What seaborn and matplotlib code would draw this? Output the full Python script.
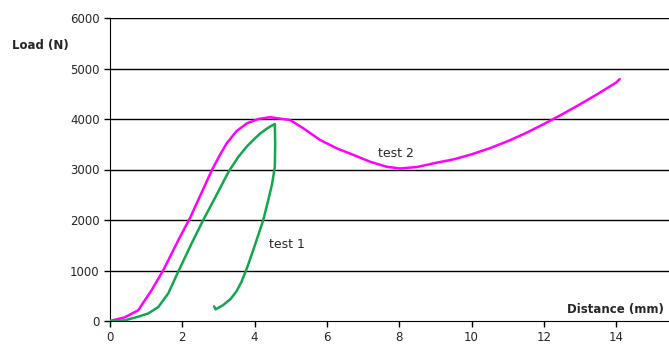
import numpy as np
import pandas as pd
import seaborn as sns
from matplotlib import pyplot as plt

sns.set_style("ticks")

# test 1 (green): loading curve, sudden drop, then unloading back
t1_dist = [0.0, 0.41, 0.78, 1.06, 1.34, 1.61, 1.89, 2.26, 2.58, 2.95, 3.28, 3.55, 3.79, 4.0, 4.16, 4.32,
           4.45, 4.56, 4.57, 4.56, 4.48, 4.38, 4.24, 4.01, 3.8, 3.64, 3.5, 3.34, 3.13, 2.92, 2.88]
t1_load = [0, 13, 85, 150, 280, 545, 980, 1540, 2000, 2500, 2955, 3250, 3460, 3610, 3715, 3800,
           3860, 3900, 3500, 3050, 2700, 2400, 2000, 1505, 1070, 780, 590, 440, 315, 230, 290]

# test 2 (magenta)
t2_dist = [0.0, 0.41, 0.78, 1.15, 1.47, 1.89, 2.22, 2.52, 2.82, 3.05, 3.23, 3.5, 3.79, 4.1, 4.43,
           4.98, 5.35, 5.81, 6.27, 6.73, 7.19, 7.65, 8.02, 8.5, 9.0, 9.5, 10.0, 10.5, 11.0, 11.5,
           12.0, 12.5, 13.0, 13.5, 14.0, 14.1]
t2_load = [0, 73, 212, 610, 1000, 1600, 2050, 2520, 2990, 3300, 3520, 3760, 3915, 4000, 4035,
           3980, 3815, 3585, 3420, 3290, 3155, 3055, 3020, 3050, 3130, 3200, 3300, 3420, 3560, 3720,
           3900, 4090, 4290, 4500, 4720, 4790]

y_ticks = [0, 1000, 2000, 3000, 4000, 5000, 6000]
x_ticks = [0, 2, 4, 6, 8, 10, 12, 14]

df1 = pd.DataFrame({'Distance': t1_dist, 'Load': t1_load})
df2 = pd.DataFrame({'Distance': t2_dist, 'Load': t2_load})

fig = plt.figure(figsize=(6.69, 3.45), dpi=100)
ax = fig.add_axes([110/669, 24/345, 1 - 110/669, (321-18)/345])

for yv in y_ticks[1:]:
    ax.axhline(yv, color='black', lw=1.0, zorder=1)

sns.lineplot(data=df2, x='Distance', y='Load', sort=False, estimator=None,
             color='#FF00FF', lw=1.8, ax=ax, zorder=3)
sns.lineplot(data=df1, x='Distance', y='Load', sort=False, estimator=None,
             color='#12A650', lw=1.8, ax=ax, zorder=3)

ax.set_xlim(0, 559/36.15)
ax.set_ylim(0, 6000)
ax.set_xticks(x_ticks)
ax.set_yticks(y_ticks)
ax.tick_params(labelsize=8.5, length=4, color='black', width=1)
ax.set_xlabel('')
ax.set_ylabel('')
sns.despine(ax=ax)
ax.spines['left'].set_color('black')
ax.spines['bottom'].set_color('black')

ax.text(7.9, 3320, 'test 2', fontsize=9, ha='center', va='center')
ax.text(4.9, 1520, 'test 1', fontsize=9, ha='center', va='center')

fig.text(40/669, 1 - 45/345, 'Load (N)', fontsize=8.5, fontweight='bold', ha='center', va='center')
fig.text(615/669, 1 - 310/345, 'Distance (mm)', fontsize=8.5, fontweight='bold', ha='center', va='center')

fig.savefig('out.png', dpi=100)
